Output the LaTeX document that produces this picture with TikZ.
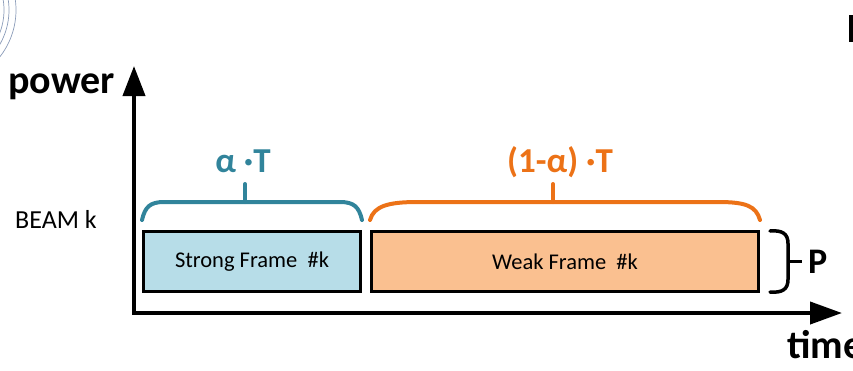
\documentclass[tikz,border=0pt]{standalone}
\usepackage{fontspec}
\setmainfont{Carlito}
\usetikzlibrary{arrows.meta,calc}

\definecolor{beamteal}{HTML}{31849B}
\definecolor{beamorange}{HTML}{EC7217}
\definecolor{strongfill}{HTML}{B7DDE8}
\definecolor{weakfill}{HTML}{FAC090}
\definecolor{ringgray}{HTML}{8A9BB8}

\begin{document}
\begin{tikzpicture}[x=1pt, y=-1pt,
    framebox/.style={draw=black, line width=3pt, minimum height=60pt, inner sep=0pt, font=\fontsize{22.5}{26}\selectfont},
    axis/.style={line width=4pt, line join=miter, {Triangle[length=30pt,width=22pt]}-{Triangle[length=32pt,width=22pt]}},
    bracket/.style={line width=4pt, line cap=round},
    axislabel/.style={inner sep=0pt, font=\bfseries\fontsize{40}{48}\selectfont},
    shareword/.style={inner sep=0pt, font=\bfseries\fontsize{35}{42}\selectfont}]

    \useasboundingbox (0,0) rectangle (853,370);

    % rings in the corner
    \foreach \r in {64,69,76}
        \draw[ringgray, line width=0.7pt] (-60,10) circle[radius=\r];
    \fill (849,15) rectangle (853,42);

    % axes
    \coordinate (ytop) at (134,66);
    \coordinate (xend) at (842,313);
    \draw[axis] (ytop) |- (xend);
    \node[axislabel, anchor=base west] (power) at (8,93) {power};
    \node[axislabel, anchor=base west] (time) at (787,358) {time};
    \node[anchor=base west, inner sep=0pt, font=\fontsize{26}{30}\selectfont] (beam) at (15,228) {BEAM k};

    % the two frames
    \node[framebox, fill=strongfill, minimum width=217pt] (strong) at (252,261.5) {Strong Frame~~\#k};
    \node[framebox, fill=weakfill, minimum width=387pt] (weak) at (565,261.5) {Weak Frame~~\#k};

    % strong share
    \draw[bracket, beamteal]
        ($(strong.north west)+(0,-10)$) .. controls +(3,-13) and +(-14,0) .. ($(strong.north west)+(22,-28)$)
        -- ($(strong.north east)+(-22,-28)$) .. controls +(14,0) and +(-3,-13) .. ($(strong.north east)+(0,-10)$);
    \draw[bracket, beamteal] ($(strong.north)+(-7,-28)$) -- ++(0,-18);
    \node[shareword, text=beamteal, anchor=base] (alphaT) at ($(strong.north)+(-9,-58)$) {α ·T};

    % weak share
    \draw[bracket, beamorange]
        ($(weak.north west)+(0,-10)$) .. controls +(4,-14) and +(-30,0) .. ($(weak.north west)+(48,-28)$)
        -- ($(weak.north east)+(-42,-28)$) .. controls +(28,0) and +(-4,-14) .. ($(weak.north east)+(0,-10)$);
    \draw[bracket, beamorange] ($(weak.north)+(-12,-28)$) -- ++(0,-18);
    \node[shareword, text=beamorange, anchor=base] (restT) at ($(weak.north)+(-5,-58)$) {(1-α) ·T};

    % power level
    \draw[bracket, line width=3.5pt]
        ($(weak.north east)+(10,1)$) .. controls +(12,-1) and +(0,-10) .. ($(weak.east)+(28,-18)$)
        -- ($(weak.east)+(28,18)$) .. controls +(0,10) and +(12,1) .. ($(weak.south east)+(10,-1)$);
    \draw[line width=3.5pt] ($(weak.east)+(28,0)$) -- ++(14,0) coordinate (ptick);
    \node[axislabel, font=\bfseries\fontsize{36}{42}\selectfont, anchor=west, xshift=6pt] (plevel) at (ptick) {P};
\end{tikzpicture}
\end{document}
